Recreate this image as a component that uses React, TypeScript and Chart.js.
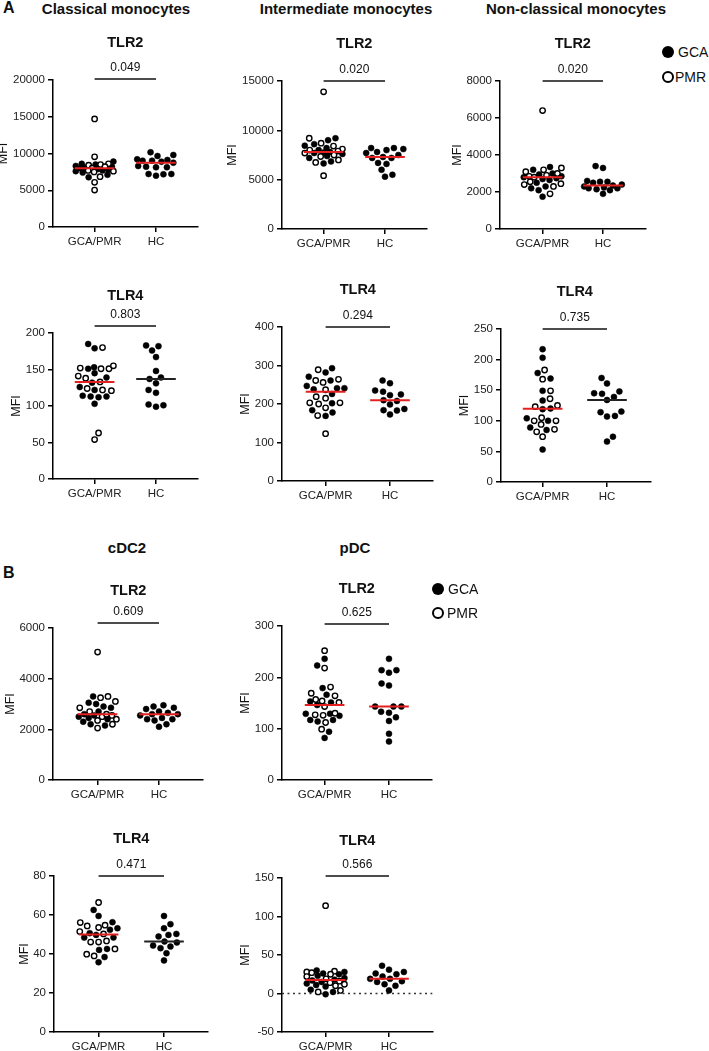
import React, { useEffect, useRef } from "react";
import { Chart, registerables } from "chart.js";
Chart.register(...registerables);

const FONT = '"Liberation Sans", Arial, Helvetica, sans-serif';
const RED = "#e3201f";
const DARK = "#222";

const groups = ["GCA/PMR", "HC"];

// ---------- Panel A: Classical monocytes TLR2 ----------
const classicalTLR2_GCA = [8900, 8600, 8500, 8300, 8200, 8100, 8000, 7900, 7800, 7700, 7600, 7400, 7100, 6760];
const classicalTLR2_PMR = [14700, 9550, 8600, 8500, 8400, 8200, 8000, 7700, 7600, 7500, 6850, 6080, 5030];
const classicalTLR2_HC = [10160, 9800, 9660, 9210, 9120, 9020, 9020, 8890, 8750, 8300, 8200, 8120, 8120, 7210, 7210, 7170, 6980];

// ---------- Intermediate monocytes TLR2 ----------
const intermediateTLR2_GCA = [9200, 9000, 8600, 8450, 8200, 8000, 7800, 7750, 7700, 7600, 7400, 7200, 6850, 6650];
const intermediateTLR2_PMR = [13900, 9200, 8700, 8400, 8100, 8000, 7900, 7700, 7500, 7350, 7000, 6750, 5400];
const intermediateTLR2_HC = [8200, 8200, 8100, 8000, 7800, 7700, 7500, 7300, 7200, 7200, 6700, 6600, 6000, 5500, 5300];

// ---------- Non-classical monocytes TLR2 ----------
const nonclassicalTLR2_GCA = [3350, 3200, 3000, 2950, 2850, 2800, 2750, 2700, 2650, 2500, 2300, 2200, 2100, 1750];
const nonclassicalTLR2_PMR = [6400, 3300, 3200, 3100, 3000, 2900, 2850, 2800, 2550, 2450, 2400, 2300, 1900];
const nonclassicalTLR2_HC = [3400, 3300, 2600, 2550, 2550, 2500, 2400, 2350, 2300, 2250, 2200, 2200, 2150, 2100, 1900];

// ---------- Classical monocytes TLR4 ----------
const classicalTLR4_GCA = [185, 179, 153, 151, 145, 139, 132, 122, 126, 114, 112, 113, 113, 103];
const classicalTLR4_PMR = [180, 151, 151, 155, 152, 138, 141, 133, 124, 121, 122, 63, 54];
const classicalTLR4_HC = [176, 183, 182, 167, 148, 139, 137, 131, 122, 118, 99, 102, 101];

// ---------- Intermediate monocytes TLR4 ----------
const intermediateTLR4_GCA = [282, 293, 261, 271, 241, 247, 241, 238, 226, 202, 178, 169, 184];
const intermediateTLR4_PMR = [289, 264, 261, 256, 237, 215, 219, 203, 200, 203, 190, 170, 123];
const intermediateTLR4_HC = [261, 254, 235, 225, 232, 223, 210, 208, 199, 173, 187, 183, 184];

// ---------- Non-classical monocytes TLR4 ----------
const nonclassicalTLR4_GCA = [217, 203, 178, 169, 149, 133, 120, 119, 104, 100, 85, 89, 53];
const nonclassicalTLR4_PMR = [183, 168, 149, 136, 123, 125, 105, 100, 100, 94, 82, 86, 74];
const nonclassicalTLR4_HC = [170, 161, 148, 139, 145, 144, 134, 108, 115, 107, 114, 66, 74];

// ---------- Panel B: cDC2 TLR2 ----------
const cdc2TLR2_GCA = [3300, 3050, 3000, 2900, 2850, 2500, 2700, 2600, 2550, 2450, 2400, 2300, 2200, 2150];
const cdc2TLR2_PMR = [5050, 3300, 3250, 3100, 2850, 2700, 2500, 2600, 2550, 2400, 2350, 2200, 2050];
const cdc2TLR2_HC = [2950, 2900, 2850, 2800, 2700, 2650, 2600, 2600, 2550, 2450, 2400, 2400, 2350, 2200, 2100];

// ---------- pDC TLR2 ----------
const pdcTLR2_GCA = [236, 223, 179, 166, 153, 151, 146, 129, 129, 125, 117, 117, 114, 94, 82];
const pdcTLR2_PMR = [252, 218, 181, 169, 164, 157, 154, 151, 143, 130, 126, 127, 112, 99];
const pdcTLR2_HC = [236, 214, 209, 214, 184, 188, 143, 143, 143, 131, 133, 122, 115, 90, 75];

// ---------- cDC2 TLR4 ----------
const cdc2TLR4_GCA = [62.6, 59.5, 56.3, 53.2, 52.4, 50.7, 49.8, 48.4, 48.4, 42.6, 42.1, 38.4, 35.8];
const cdc2TLR4_PMR = [66.4, 56.1, 54.4, 54.8, 53.6, 51.5, 50.3, 46.7, 46.1, 46.1, 42.6, 39.9, 39];
const cdc2TLR4_HC = [59.5, 55.3, 53.2, 49.8, 50.3, 49, 45.9, 43, 43.8, 44.3, 40.4, 36.7, 46.4];

// ---------- pDC TLR4 ----------
const pdcTLR4_GCA = [30, 28, 26, 25, 23, 20, 18, 17, 15, 13, 11, 9, 5, 2, -1];
const pdcTLR4_PMR = [114, 29, 28, 27, 25, 22, 19, 16, 14, 12, 10, 4, 2];
const pdcTLR4_HC = [36, 31, 28, 26, 25, 22, 19, 19, 16, 15, 12, 10, 4];

// p-values
const pValues = ["0.049", "0.020", "0.020", "0.803", "0.294", "0.735", "0.609", "0.625", "0.471", "0.566"];

// ---------- layout (page pixels) ----------
type Layout = { axisX: number; top: number; bottom: number; right: number; gcaOff: number; hcOff: number; bracketGap: number };

const panels = [
  { title: "TLR2", p: pValues[0], gca: classicalTLR2_GCA, pmr: classicalTLR2_PMR, hc: classicalTLR2_HC, yMin: 0, yMax: 20000, step: 5000, hcMedianColor: RED, zeroLine: false,
    layout: { axisX: 53, top: 80, bottom: 227, right: 199, gcaOff: 42, hcOff: 104, bracketGap: 1 } },
  { title: "TLR2", p: pValues[1], gca: intermediateTLR2_GCA, pmr: intermediateTLR2_PMR, hc: intermediateTLR2_HC, yMin: 0, yMax: 15000, step: 5000, hcMedianColor: RED, zeroLine: false,
    layout: { axisX: 282, top: 81, bottom: 229, right: 428, gcaOff: 42, hcOff: 104, bracketGap: 0 } },
  { title: "TLR2", p: pValues[2], gca: nonclassicalTLR2_GCA, pmr: nonclassicalTLR2_PMR, hc: nonclassicalTLR2_HC, yMin: 0, yMax: 8000, step: 2000, hcMedianColor: RED, zeroLine: false,
    layout: { axisX: 500, top: 81, bottom: 229, right: 647, gcaOff: 43, hcOff: 104, bracketGap: 0 } },
  { title: "TLR4", p: pValues[3], gca: classicalTLR4_GCA, pmr: classicalTLR4_PMR, hc: classicalTLR4_HC, yMin: 0, yMax: 200, step: 50, hcMedianColor: DARK, zeroLine: false,
    layout: { axisX: 53, top: 333, bottom: 479, right: 199, gcaOff: 42, hcOff: 104, bracketGap: 7 } },
  { title: "TLR4", p: pValues[4], gca: intermediateTLR4_GCA, pmr: intermediateTLR4_PMR, hc: intermediateTLR4_HC, yMin: 0, yMax: 400, step: 100, hcMedianColor: RED, zeroLine: false,
    layout: { axisX: 282, top: 327, bottom: 481, right: 434, gcaOff: 44, hcOff: 109, bracketGap: 0 } },
  { title: "TLR4", p: pValues[5], gca: nonclassicalTLR4_GCA, pmr: nonclassicalTLR4_PMR, hc: nonclassicalTLR4_HC, yMin: 0, yMax: 250, step: 50, hcMedianColor: DARK, zeroLine: false,
    layout: { axisX: 501, top: 329, bottom: 482, right: 652, gcaOff: 42, hcOff: 107, bracketGap: 0 } },
  { title: "TLR2", p: pValues[6], gca: cdc2TLR2_GCA, pmr: cdc2TLR2_PMR, hc: cdc2TLR2_HC, yMin: 0, yMax: 6000, step: 2000, hcMedianColor: RED, zeroLine: false,
    layout: { axisX: 53, top: 628, bottom: 780, right: 204, gcaOff: 45, hcOff: 107, bracketGap: 5 } },
  { title: "TLR2", p: pValues[7], gca: pdcTLR2_GCA, pmr: pdcTLR2_PMR, hc: pdcTLR2_HC, yMin: 0, yMax: 300, step: 100, hcMedianColor: RED, zeroLine: false,
    layout: { axisX: 282, top: 626, bottom: 780, right: 433, gcaOff: 43, hcOff: 108, bracketGap: 2 } },
  { title: "TLR4", p: pValues[8], gca: cdc2TLR4_GCA, pmr: cdc2TLR4_PMR, hc: cdc2TLR4_HC, yMin: 0, yMax: 80, step: 20, hcMedianColor: DARK, zeroLine: false,
    layout: { axisX: 54, top: 876, bottom: 1032, right: 209, gcaOff: 45, hcOff: 111, bracketGap: 0 } },
  { title: "TLR4", p: pValues[9], gca: pdcTLR4_GCA, pmr: pdcTLR4_PMR, hc: pdcTLR4_HC, yMin: -50, yMax: 150, step: 50, hcMedianColor: RED, zeroLine: true,
    layout: { axisX: 282, top: 878, bottom: 1032, right: 434, gcaOff: 44, hcOff: 108, bracketGap: 2 } },
];

const Y_W = 55;
const X_H = 30;
const PAD_T = 50;
const PAD_R = 4;
const DOT_D = 7.6;
const SPREAD = 19;
const MED_HALF = 20;

function median(vals: number[]): number {
  const s = [...vals].sort((a, b) => a - b);
  const n = s.length;
  return n % 2 ? s[(n - 1) / 2] : (s[n / 2 - 1] + s[n / 2]) / 2;
}

// beeswarm: horizontal pixel offsets so markers do not overlap (within a capped spread)
function swarm(values: number[], pxPerY: number): number[] {
  const order = values.map((_, i) => i).sort((a, b) => values[a] - values[b]);
  const placed: { x: number; y: number }[] = [];
  const out = new Array(values.length).fill(0);
  order.forEach((i, k) => {
    const y = values[i] * pxPerY;
    const sign = k % 2 ? 1 : -1;
    const cands = [0];
    for (let s = 0.5; s <= SPREAD; s += 0.5) cands.push(sign * s, -sign * s);
    let best = 0;
    let bestScore = -1;
    for (const dx of cands) {
      let minD = Infinity;
      for (const p of placed) {
        const d = Math.hypot(p.x - dx, p.y - y);
        if (d < minD) minD = d;
      }
      if (minD >= DOT_D) { best = dx; break; }
      if (minD > bestScore) { bestScore = minD; best = dx; }
    }
    placed.push({ x: best, y });
    out[i] = best;
  });
  return out;
}

const annotPlugin = {
  id: "annot",
  afterDraw(chart: any, _args: any, opts: any) {
    const { ctx, chartArea, scales } = chart;
    const x0 = scales.x.getPixelForValue(0);
    const x1 = scales.x.getPixelForValue(1);
    const cx = (x0 + x1) / 2;
    const by = chartArea.top - opts.bracketGap;
    ctx.save();
    ctx.strokeStyle = "#111";
    ctx.lineWidth = 1.5;
    ctx.beginPath();
    ctx.moveTo(x0, by);
    ctx.lineTo(x1, by);
    ctx.stroke();
    ctx.fillStyle = "#111";
    ctx.textAlign = "center";
    ctx.textBaseline = "middle";
    ctx.font = `12px ${FONT}`;
    ctx.fillText(opts.p, cx, by - 11);
    ctx.font = `bold 14.5px ${FONT}`;
    ctx.fillText(opts.title, cx, chartArea.top - 37.5);
    ctx.font = `11.5px ${FONT}`;
    let maxW = 0;
    for (const t of scales.y.ticks) maxW = Math.max(maxW, ctx.measureText(String(t.value)).width);
    const mx = chartArea.left - 8 - maxW - 9;
    ctx.translate(mx, (chartArea.top + chartArea.bottom) / 2);
    ctx.rotate(-Math.PI / 2);
    ctx.font = `12.5px ${FONT}`;
    ctx.fillText("MFI", 0, 0);
    ctx.restore();
  },
};

function Panel({ cfg }: { cfg: (typeof panels)[number] }) {
  const ref = useRef<HTMLCanvasElement>(null);
  const L: Layout = cfg.layout;
  const plotW = L.right - L.axisX;
  const plotH = L.bottom - L.top;
  const cw = Y_W + plotW + PAD_R;
  const ch = PAD_T + plotH + X_H;

  useEffect(() => {
    const unit = L.hcOff - L.gcaOff;
    const xMin = -L.gcaOff / unit;
    const xMax = (plotW - L.gcaOff) / unit;
    const pxPerY = plotH / (cfg.yMax - cfg.yMin);

    const patVals = [...cfg.gca, ...cfg.pmr];
    const patDx = swarm(patVals, pxPerY);
    const hcDx = swarm(cfg.hc, pxPerY);
    const gcaPts = cfg.gca.map((v, i) => ({ x: patDx[i] / unit, y: v }));
    const pmrPts = cfg.pmr.map((v, i) => ({ x: patDx[cfg.gca.length + i] / unit, y: v }));
    const hcPts = cfg.hc.map((v, i) => ({ x: 1 + hcDx[i] / unit, y: v }));
    const mPat = median(patVals);
    const mHc = median(cfg.hc);
    const mw = MED_HALF / unit;

    const datasets: any[] = [
      { data: [{ x: -mw, y: mPat }, { x: mw, y: mPat }], showLine: true, borderColor: RED, borderWidth: 2, pointRadius: 0, order: 0 },
      { data: [{ x: 1 - mw, y: mHc }, { x: 1 + mw, y: mHc }], showLine: true, borderColor: cfg.hcMedianColor, borderWidth: 2, pointRadius: 0, order: 0 },
      { data: pmrPts, pointRadius: 2.7, pointBorderWidth: 1.4, pointBackgroundColor: "#fff", pointBorderColor: "#000", order: 1 },
      { data: gcaPts, pointRadius: 3, pointBorderWidth: 0.5, pointBackgroundColor: "#000", pointBorderColor: "#000", order: 2 },
      { data: hcPts, pointRadius: 3, pointBorderWidth: 0.5, pointBackgroundColor: "#000", pointBorderColor: "#000", order: 2 },
    ];
    if (cfg.zeroLine) {
      datasets.push({ data: [{ x: xMin, y: 0 }, { x: xMax, y: 0 }], showLine: true, borderColor: "#333", borderWidth: 1.5, borderDash: [2, 3.5], pointRadius: 0, order: 3 });
    }

    const chart = new Chart(ref.current as HTMLCanvasElement, {
      type: "scatter",
      data: { datasets },
      plugins: [annotPlugin],
      options: {
        responsive: false,
        animation: false,
        events: [],
        layout: { padding: { top: PAD_T, right: PAD_R, left: 0, bottom: 0 } },
        plugins: {
          legend: { display: false },
          tooltip: { enabled: false },
          annot: { title: cfg.title, p: cfg.p, bracketGap: L.bracketGap },
        } as any,
        scales: {
          x: {
            type: "linear",
            min: xMin,
            max: xMax,
            afterBuildTicks: (s: any) => { s.ticks = [{ value: 0 }, { value: 1 }]; },
            afterFit: (s: any) => { s.height = X_H; },
            ticks: { autoSkip: false, maxRotation: 0, padding: 3, color: DARK, font: { family: FONT, size: 11.5 }, callback: (v: any) => groups[v] ?? "" },
            grid: { display: true, drawOnChartArea: false, drawTicks: true, tickLength: 5, color: "#000", lineWidth: 1.5 },
            border: { display: true, color: "#000", width: 1.5 },
          },
          y: {
            type: "linear",
            min: cfg.yMin,
            max: cfg.yMax,
            afterFit: (s: any) => { s.width = Y_W; },
            ticks: { stepSize: cfg.step, padding: 3, color: DARK, font: { family: FONT, size: 11.5 }, callback: (v: any) => String(v) },
            grid: { display: true, drawOnChartArea: false, drawTicks: true, tickLength: 5, color: "#000", lineWidth: 1.5 },
            border: { display: true, color: "#000", width: 1.5 },
          },
        },
      } as any,
    });
    return () => chart.destroy();
  }, []);

  return (
    <canvas
      ref={ref}
      width={cw}
      height={ch}
      style={{ position: "absolute", left: L.axisX - Y_W, top: L.top - PAD_T, width: cw, height: ch }}
    />
  );
}

function Label({ text, x, y, size, bold, anchor }: { text: string; x: number; y: number; size: number; bold?: boolean; anchor?: string }) {
  return (
    <div
      style={{
        position: "absolute",
        left: x,
        top: y,
        transform: anchor === "left" ? "translate(0,-50%)" : "translate(-50%,-50%)",
        fontFamily: FONT,
        fontSize: size,
        fontWeight: bold ? "bold" : "normal",
        lineHeight: 1,
        whiteSpace: "nowrap",
        color: "#111",
      }}
    >
      {text}
    </div>
  );
}

function LegendItem({ x, y, filled, text, tx }: { x: number; y: number; filled: boolean; text: string; tx: number }) {
  return (
    <>
      <div
        style={{
          position: "absolute",
          left: x - 6,
          top: y - 6,
          width: 12,
          height: 12,
          boxSizing: "border-box",
          borderRadius: "50%",
          background: filled ? "#000" : "#fff",
          border: filled ? "none" : "2px solid #000",
        }}
      />
      <Label text={text} x={tx} y={y} size={14} anchor="left" />
    </>
  );
}

export default function App() {
  return (
    <div>
      <Label text="A" x={3} y={8} size={16} bold anchor="left" />
      <Label text="Classical monocytes" x={116} y={8} size={15} bold />
      <Label text="Intermediate monocytes" x={346} y={8} size={15} bold />
      <Label text="Non-classical monocytes" x={576} y={8} size={15} bold />
      <Label text="B" x={3} y={573} size={16} bold anchor="left" />
      <Label text="cDC2" x={127} y={547} size={15} bold />
      <Label text="pDC" x={355} y={547} size={15} bold />
      {panels.map((p, i) => (
        <Panel key={i} cfg={p} />
      ))}
      <LegendItem x={668} y={52} filled text="GCA" tx={678} />
      <LegendItem x={668} y={77} filled={false} text="PMR" tx={675} />
      <LegendItem x={438} y={589} filled text="GCA" tx={448} />
      <LegendItem x={438} y={613} filled={false} text="PMR" tx={447} />
    </div>
  );
}
